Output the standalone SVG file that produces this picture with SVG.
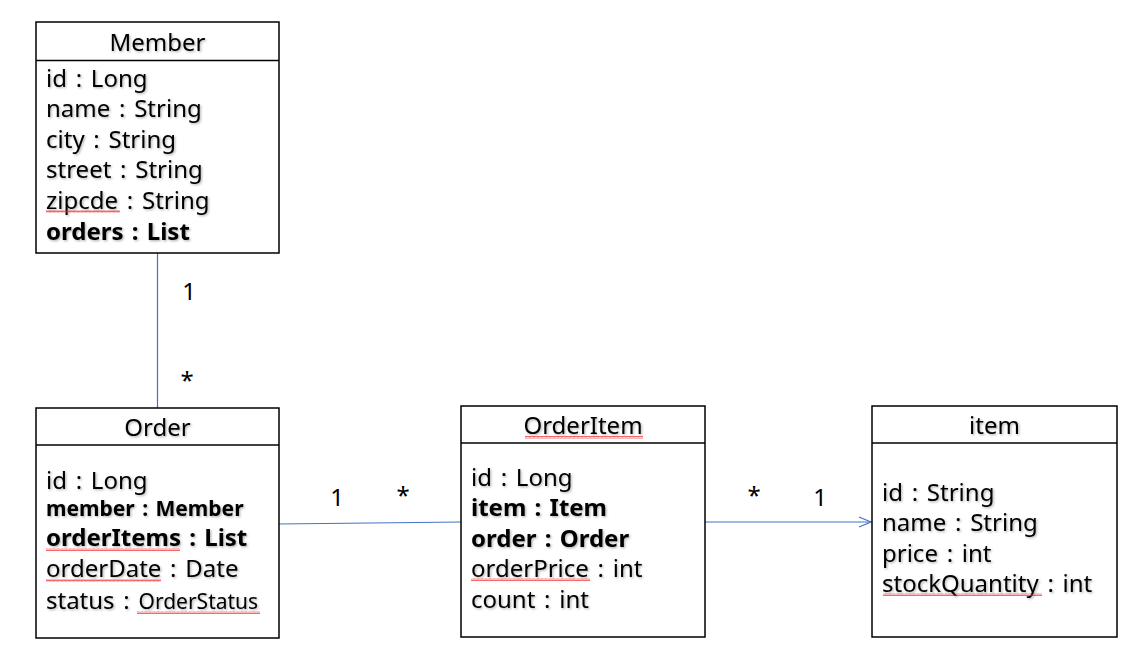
<svg xmlns="http://www.w3.org/2000/svg" width="1143" height="667" viewBox="0 0 1143 667">
<style>
.box{fill:#fff;stroke:#000;stroke-width:1.5}
.sep{stroke:#000;stroke-width:1.5}
text{font-family:"Noto Sans","Open Sans","Liberation Sans",sans-serif;fill:#000}
.t{font-size:24px;text-anchor:middle}
.a{font-size:24px;word-spacing:2.5px}
.b{font-size:24px;font-weight:bold;word-spacing:2px}
.bs{font-size:21px;font-weight:bold;word-spacing:2px}
.m{font-size:24px;text-anchor:middle}
.sh{filter:url(#shadow)}
.conn{stroke:#4472C4;stroke-width:1.2;fill:none}
.sq{fill:url(#squig)}
</style>
<defs>
<filter id="shadow" x="-5%" y="-20%" width="110%" height="140%">
<feDropShadow dx="1.2" dy="1.2" stdDeviation="0.8" flood-color="#000" flood-opacity="0.3"/>
</filter>
<pattern id="squig" width="4" height="3" patternUnits="userSpaceOnUse">
<path d="M0,2.5 L1,0.5 L2,2.5 L3,0.5 L4,2.5" stroke="#f02828" stroke-width="0.7" fill="none"/>
</pattern>
<marker id="open" markerWidth="14" markerHeight="12" refX="13" refY="6" orient="auto" markerUnits="userSpaceOnUse">
<path d="M1,1 L13,6 L1,11" stroke="#4472C4" stroke-width="1.2" fill="none"/>
</marker>
</defs>
<rect width="1143" height="667" fill="#fff"/>

<g id="connectors">
<line class="conn" x1="157.5" y1="253" x2="157.5" y2="408"/>
<line class="conn" x1="279" y1="524" x2="461" y2="522"/>
<line class="conn" x1="705" y1="522" x2="871" y2="522" marker-end="url(#open)"/>
<text class="m" x="189" y="300">1</text>
<text class="m" x="187" y="389">*</text>
<text class="m" x="337" y="506">1</text>
<text class="m" x="403" y="504">*</text>
<text class="m" x="754" y="504">*</text>
<text class="m" x="820" y="506">1</text>
</g>

<g id="member">
<rect class="box" x="36" y="22" width="243" height="231"/>
<line class="sep" x1="36" y1="60.5" x2="279" y2="60.5"/>
<g class="sh">
<text class="t" x="157.5" y="51">Member</text>
<text class="a" x="46" y="87">id : Long</text>
<text class="a" x="46" y="117">name : String</text>
<text class="a" x="46" y="148">city : String</text>
<text class="a" x="46" y="178">street : String</text>
<text class="a" x="46" y="209">zipcde : String</text>
<text class="b" x="46" y="240">orders : List</text>
</g>
<rect class="sq" x="46" y="210" width="74" height="3"/>
</g>

<g id="order">
<rect class="box" x="36" y="408" width="243" height="230"/>
<line class="sep" x1="36" y1="445" x2="279" y2="445"/>
<g class="sh">
<text class="t" x="157.5" y="436">Order</text>
<text class="a" x="46" y="489">id : Long</text>
<text class="bs" x="46" y="516">member : Member</text>
<text class="b" x="46" y="546">orderItems : List</text>
<text class="a" x="46" y="577">orderDate : Date</text>
<text class="a" x="46" y="609">status : <tspan font-size="21">OrderStatus</tspan></text>
</g>
<rect class="sq" x="46" y="548" width="134" height="3"/>
<rect class="sq" x="46" y="579" width="115" height="3"/>
<rect class="sq" x="137" y="611" width="123" height="3"/>
</g>

<g id="orderitem">
<rect class="box" x="461" y="406" width="244" height="231"/>
<line class="sep" x1="461" y1="443" x2="705" y2="443"/>
<g class="sh">
<text class="t" x="583" y="434">OrderItem</text>
<text class="a" x="471" y="486">id : Long</text>
<text class="b" x="471" y="516">item : Item</text>
<text class="b" x="471" y="547">order : Order</text>
<text class="a" x="471" y="577">orderPrice : int</text>
<text class="a" x="471" y="608">count : int</text>
</g>
<rect class="sq" x="525" y="436" width="118" height="3"/>
<rect class="sq" x="471" y="578" width="119" height="3"/>
</g>

<g id="item">
<rect class="box" x="872" y="406" width="245" height="231"/>
<line class="sep" x1="872" y1="443" x2="1117" y2="443"/>
<g class="sh">
<text class="t" x="994.5" y="434">item</text>
<text class="a" x="882" y="501">id : String</text>
<text class="a" x="882" y="531">name : String</text>
<text class="a" x="882" y="562">price : int</text>
<text class="a" x="882" y="592">stockQuantity : int</text>
</g>
<rect class="sq" x="883" y="593" width="159" height="3"/>
</g>
</svg>
